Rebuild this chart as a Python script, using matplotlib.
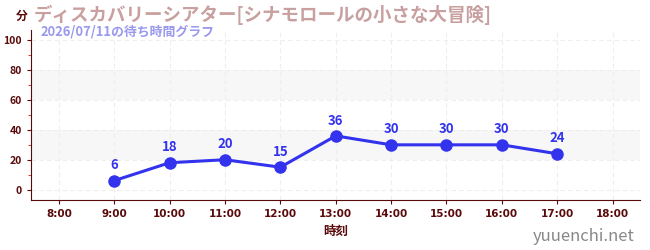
import matplotlib
matplotlib.use("Agg")
import matplotlib.pyplot as plt
from matplotlib.ticker import MultipleLocator

plt.rcParams['font.family'] = ['Noto Sans CJK JP', 'DejaVu Sans']

hours = [9, 10, 11, 12, 13, 14, 15, 16, 17]
waits = [6, 18, 20, 15, 36, 30, 30, 30, 24]
tick_hours = list(range(8, 19))
tick_labels = [f"{h}:00" for h in tick_hours]

title = "ディスカバリーシアター[シナモロールの小さな大冒険]"
subtitle = "2026/07/11の待ち時間グラフ"

dark = "#5a0a0a"
blue = "#3333ee"

fig = plt.figure(figsize=(6.5, 2.5), dpi=100)
ax = fig.add_axes([0.048, 0.2, 0.937, 0.68])

ax.set_xlim(7.5, 18.5)
ax.set_ylim(-7, 107)

# background bands
for lo, hi in [(20, 40), (60, 80)]:
    ax.axhspan(lo, hi, color="#f7f7f7", zorder=0, lw=0)

ax.set_xticks(tick_hours)
ax.set_xticklabels(tick_labels, family=['Liberation Sans Narrow', 'DejaVu Sans'],
                   fontweight="bold")
ax.set_yticks([0, 20, 40, 60, 80, 100])
ax.yaxis.set_minor_locator(MultipleLocator(10))
ax.grid(True, which="major", color="#eeeeee", ls=(0, (4, 3)), lw=0.8, zorder=0)

ax.plot(hours, waits, color=blue, lw=2.2, marker="o", ms=8, zorder=3)
for h, w in zip(hours, waits):
    ax.annotate(str(w), (h, w), xytext=(0, 6), textcoords="offset points",
                ha="center", va="bottom", color=blue, fontsize=9.5, fontweight="bold")

for s in ["top", "right"]:
    ax.spines[s].set_visible(False)
for s in ["left", "bottom"]:
    ax.spines[s].set_color(dark)
ax.tick_params(axis="both", colors=dark, labelsize=7.5, length=3)
ax.tick_params(axis="y", which="minor", colors="#cc2222", length=2)
for lab in ax.get_yticklabels():
    lab.set_fontweight("bold")

ax.set_xlabel("時刻", color=dark, fontsize=9, fontweight="bold", labelpad=4)

fig.text(0.025, 0.935, "分", color=dark, fontsize=8.5, fontweight="bold", va="center")
fig.text(0.052, 0.94, title, color="#c9a0a0", fontsize=13.3, fontweight="bold", va="center")
fig.text(0.062, 0.875, subtitle, color="#9999ee", fontsize=9.3, fontweight="bold", va="center")
fig.text(0.977, 0.055, "yuuenchi.net", color="#888888", fontsize=12, ha="right", va="center")

fig.savefig("out.png", dpi=100)
